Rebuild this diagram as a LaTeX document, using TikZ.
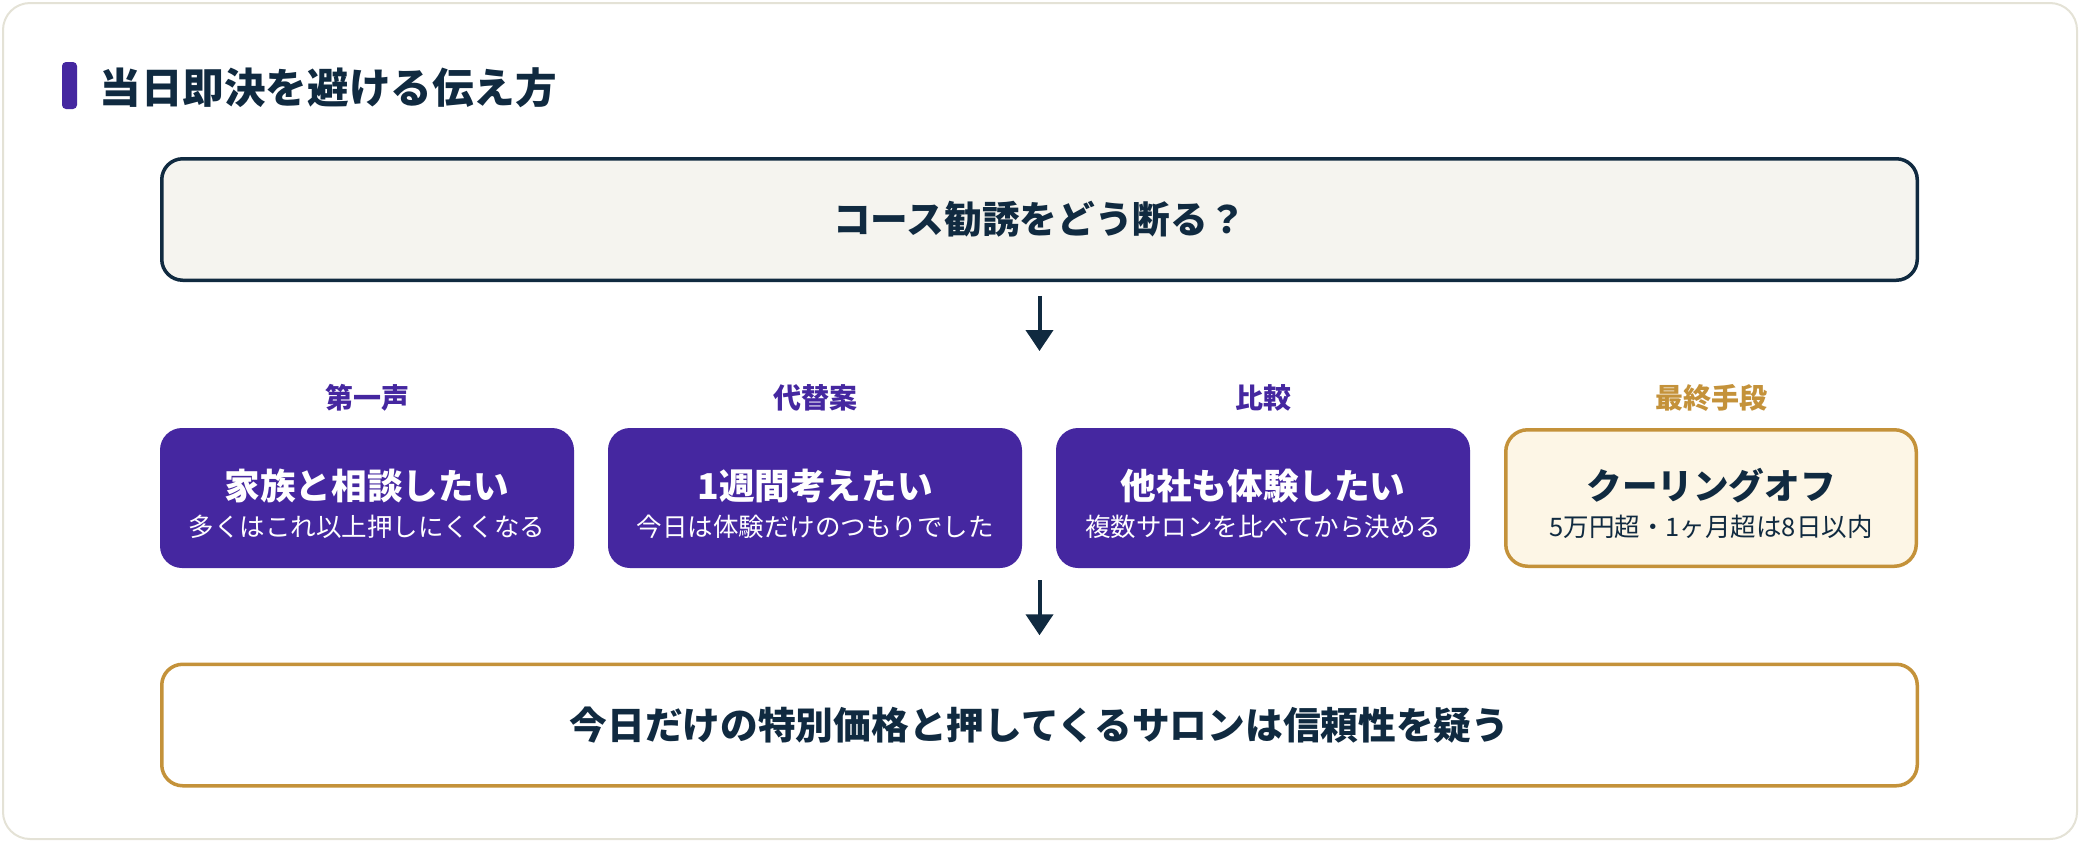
\documentclass[tikz,border=0pt]{standalone}
\usepackage{fontspec}
\setmainfont{Noto Sans CJK JP}
\usetikzlibrary{arrows.meta}

\definecolor{ink}{RGB}{16,42,64}
\definecolor{violet}{RGB}{69,39,160}
\definecolor{gold}{RGB}{196,146,58}
\definecolor{cream}{RGB}{253,246,230}
\definecolor{paper}{RGB}{245,244,239}
\definecolor{cardline}{RGB}{228,226,214}

\begin{document}
\begin{tikzpicture}[
    x=0.5pt, y=-0.5pt,
    askbox/.style={draw=ink, line width=1.75pt, fill=paper, rounded corners=10.5pt,
      minimum width=877.75pt, minimum height=60.75pt, inner sep=0pt, text=ink,
      font=\fontsize{18.85}{22}\selectfont\bfseries},
    warnbox/.style={askbox, draw=gold, fill=white},
    replybox/.style={fill=violet, rounded corners=11pt, minimum width=207pt,
      minimum height=70pt, inner sep=0pt, text=white, align=center,
      font=\fontsize{12.75}{18.2}\selectfont},
    lastbox/.style={replybox, draw=gold, line width=1.75pt, fill=cream, text=ink,
      minimum width=205.25pt, minimum height=68.25pt},
    tag/.style={text=violet, font=\fontsize{14}{16}\selectfont\bfseries},
    arrow/.style={-{Triangle[width=13.5pt,length=10.5pt]}, line width=2pt, draw=ink}
]
\useasboundingbox (0,0) rectangle (2080,842);
\draw[draw=cardline, line width=1pt, fill=white, rounded corners=13.5pt] (3,3) rectangle (2077,839);

% heading
\fill[violet, rounded corners=2pt] (62,62) rectangle (77,109);
\node[anchor=west, inner sep=0pt, text=ink, font=\fontsize{20.8}{24}\selectfont\bfseries]
  (heading) at (99,88) {当日即決を避ける伝え方};

\node[askbox] (ask) at (1039.5,219.5) {コース勧誘をどう断る？};
\coordinate (cut1) at (1039.5,351);
\draw[arrow, shorten <=6.9pt] (ask) -- (cut1);

\foreach \n/\x/\tagtext/\head/\sub in {
  1/367/第一声/家族と相談したい/多くはこれ以上押しにくくなる,
  2/815/代替案/1週間考えたい/今日は体験だけのつもりでした,
  3/1263/比較/他社も体験したい/複数サロンを比べてから決める}{
  \node[tag] (tag\n) at (\x,398) {\tagtext};
  \node[replybox] (reply\n) at (\x,498)
    {{\fontsize{17.8}{18.2}\selectfont\bfseries\rule{0pt}{21pt}\head}\\\sub};
}
\node[tag, text=gold] (tag4) at (1711,398) {最終手段};
\node[lastbox] (reply4) at (1711,498)
  {{\fontsize{17.8}{18.2}\selectfont\bfseries\rule{0pt}{21pt}クーリングオフ}\\5万円超・1ヶ月超は8日以内};

\coordinate (cut2) at (1039.5,580);
\node[warnbox] (warn) at (1039.5,725) {今日だけの特別価格と押してくるサロンは信頼性を疑う};
\draw[arrow, shorten >=13.6pt] (cut2) -- (warn);

\end{tikzpicture}
\end{document}
